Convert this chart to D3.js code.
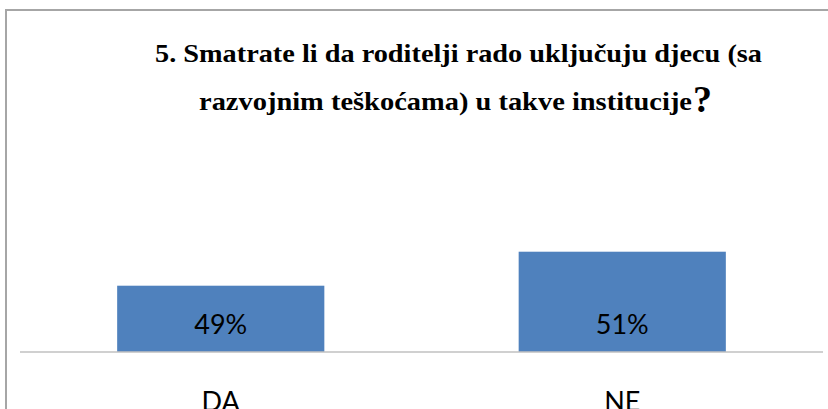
<!DOCTYPE html>
<html>
<head>
<meta charset="utf-8">
<script src="https://cdn.jsdelivr.net/npm/d3@7"></script>
<style>
  html, body { margin: 0; padding: 0; background: #fff; }
  svg { display: block; }
  .title { font-family: "Liberation Serif", "DejaVu Serif", "Noto Serif", "Times New Roman", Times, serif; font-weight: bold; }
</style>
</head>
<body>
<div id="chart"></div>
<script>
// Data
const categories = ["DA", "NE"];
const values = [49, 51];
const valueLabels = ["49%", "51%"];
const titleLine1 = "5. Smatrate li da roditelji rado uključuju djecu (sa";
const titleLine2 = "razvojnim teškoćama) u takve institucije";

// Dimensions
const width = 828,
  height = 409;

const plot = { left: 20, right: 823, top: 130, bottom: 352 };

const svg = d3.select("#chart")
  .append("svg")
  .attr("width", width)
  .attr("height", height);

svg.append("rect")
  .attr("width", width)
  .attr("height", height)
  .attr("fill", "#fff");

// Chart border (cropped on the right and bottom)
svg.append("rect")
  .attr("x", 6)
  .attr("y", 10)
  .attr("width", width + 20)
  .attr("height", height + 20)
  .attr("fill", "none")
  .attr("stroke", "#a6a6a6")
  .attr("stroke-width", 2);

// Scales
const x = d3.scaleBand()
  .domain(categories)
  .range([plot.left, plot.right])
  .paddingInner(0.484)
  .paddingOuter(0.242);

const y = d3.scaleLinear()
  .domain([45.1, 58.16])
  .range([plot.bottom, plot.top]);

// Bars
svg.selectAll(".bar")
  .data(values)
  .enter()
  .append("rect")
  .attr("class", "bar")
  .attr("x", (d, i) => x(categories[i]))
  .attr("y", d => y(d))
  .attr("width", x.bandwidth())
  .attr("height", d => plot.bottom - y(d))
  .attr("fill", "#4f81bd");

// Baseline axis
const xAxis = svg.append("g")
  .attr("transform", "translate(0," + plot.bottom + ")")
  .call(d3.axisBottom(x).tickSize(0).tickPadding(40));

xAxis.select(".domain")
  .attr("d", "M" + plot.left + ",0H" + plot.right)
  .attr("stroke", "#c0c0c0")
  .attr("stroke-width", 1.6);

xAxis.selectAll(".tick text")
  .attr("dy", 0)
  .attr("y", 59)
  .style("font-family", "Lato, 'Open Sans', sans-serif")
  .style("font-size", "27px")
  .style("fill", "#000");

// Value labels
svg.selectAll(".value-label")
  .data(values)
  .enter()
  .append("text")
  .attr("class", "value-label")
  .attr("x", (d, i) => x(categories[i]) + x.bandwidth() / 2)
  .attr("y", plot.bottom - 28)
  .attr("dy", "0.36em")
  .attr("text-anchor", "middle")
  .style("font-family", "Lato, 'Open Sans', sans-serif")
  .style("font-size", "27px")
  .style("fill", "#000")
  .text((d, i) => valueLabels[i]);

// Title
svg.append("text")
  .attr("class", "title")
  .attr("x", 155)
  .attr("y", 62)
  .attr("textLength", 607)
  .attr("lengthAdjust", "spacingAndGlyphs")
  .style("font-size", "26px")
  .text(titleLine1);

svg.append("text")
  .attr("class", "title")
  .attr("x", 199)
  .attr("y", 110)
  .attr("textLength", 493)
  .attr("lengthAdjust", "spacingAndGlyphs")
  .style("font-size", "26px")
  .text(titleLine2);

svg.append("text")
  .attr("class", "title")
  .attr("x", 693)
  .attr("y", 112)
  .style("font-size", "38px")
  .text("?");
</script>
</body>
</html>
